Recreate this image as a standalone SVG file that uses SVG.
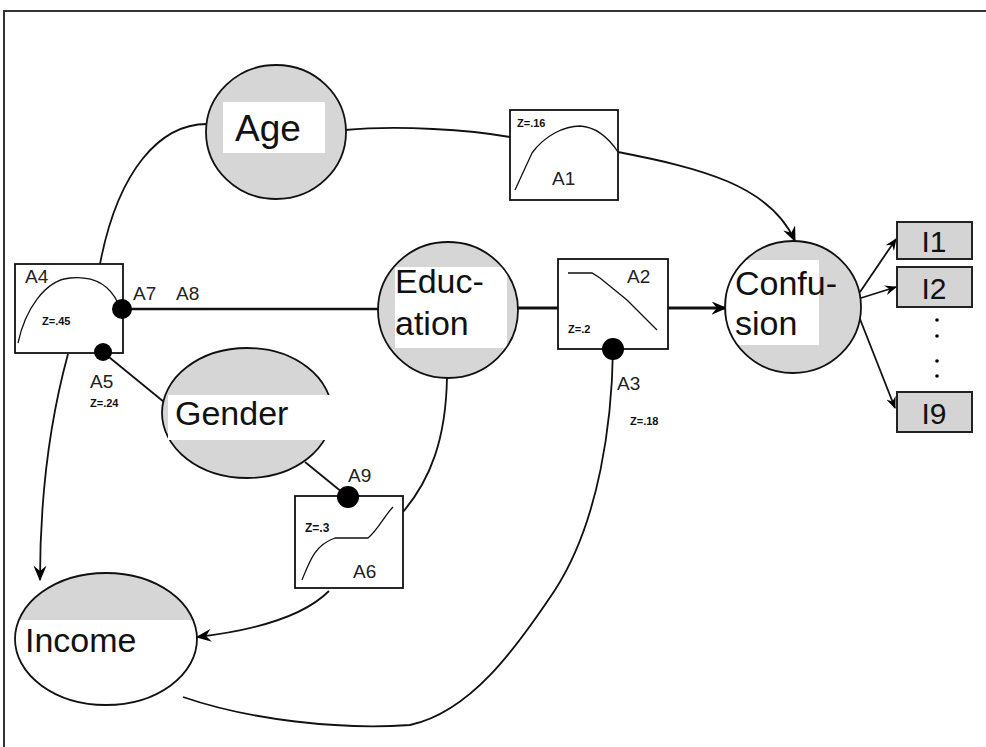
<svg xmlns="http://www.w3.org/2000/svg" width="986" height="747" viewBox="0 0 986 747">
<style>
.bg{fill:#ffffff}
.frame{fill:none;stroke:#333;stroke-width:2}
.nfill{fill:#d6d6d6;stroke:none}
.nline{fill:none;stroke:#111;stroke-width:1.8}
.tbox{fill:#ffffff;stroke:none}
.big{font-family:"Liberation Sans",Arial,sans-serif;font-size:34px;fill:#111}
.lab{font-family:"Liberation Sans",Arial,sans-serif;font-size:19px;fill:#222}
.z{font-family:"Liberation Sans",Arial,sans-serif;font-size:11px;font-weight:bold;fill:#111}
.box{fill:#ffffff;stroke:#111;stroke-width:1.8}
.ibox{fill:#d4d4d4;stroke:#222;stroke-width:2}
.curve{fill:none;stroke:#111;stroke-width:1.3}
.edge{fill:none;stroke:#111;stroke-width:1.8}
.thick{fill:none;stroke:#111;stroke-width:3}
.dot{fill:#000}
</style>
<defs>
<marker id="arr" viewBox="0 0 12 10" refX="11" refY="5" markerWidth="12" markerHeight="10" markerUnits="userSpaceOnUse" orient="auto">
<path d="M0,0 L12,5 L0,10 L4,5 z" fill="#000"/>
</marker>
<marker id="arrT" viewBox="0 0 12 10" refX="11" refY="5" markerWidth="16" markerHeight="13" markerUnits="userSpaceOnUse" orient="auto">
<path d="M0,0 L12,5 L0,10 L4,5 z" fill="#000"/>
</marker>
<clipPath id="cAge"><ellipse cx="276" cy="132" rx="70" ry="67"/></clipPath>
<clipPath id="cEdu"><ellipse cx="448" cy="310" rx="70" ry="68"/></clipPath>
<clipPath id="cCon"><ellipse cx="793" cy="307" rx="68" ry="66"/></clipPath>
<clipPath id="cInc"><ellipse cx="106" cy="639" rx="91" ry="66"/></clipPath>
</defs>
<rect class="bg" x="0" y="0" width="986" height="747"/>
<rect class="frame" x="4" y="11" width="995" height="760"/>

<g id="connectors">
<path class="edge" d="M207,124 C160,124 118,170 100,264"/>
<path class="edge" d="M345,130 C400,125 470,130 510,137"/>
<path class="edge" d="M618,152 C700,168 770,185 795,241" marker-end="url(#arrT)"/>
<path class="edge" d="M123,309 L378,309" style="stroke-width:2.4"/>
<path class="thick" d="M518,308 L558,308"/>
<path class="thick" d="M668,308 L726,308" marker-end="url(#arrT)"/>
<path class="edge" d="M104,353 L164,402"/>
<path class="edge" d="M68,354 C50,420 40,500 40,580" marker-end="url(#arrT)"/>
<path class="edge" d="M305,462 L348,497"/>
<path class="edge" d="M447,377 C446,440 430,480 403,512"/>
<path class="edge" d="M329,591 C300,620 240,632 197,637" marker-end="url(#arrT)"/>
<path class="edge" d="M613,349 C612,420 600,520 555,590 C515,650 470,712 410,725 C340,730 250,720 183,697"/>
<path class="edge" d="M860,292 L896,239" marker-end="url(#arr)"/>
<path class="edge" d="M861,298 L896,287" marker-end="url(#arr)"/>
<path class="edge" d="M858,314 L895,408" marker-end="url(#arr)"/>
</g>

<g id="age">
<ellipse class="nfill" cx="276" cy="132" rx="70" ry="67"/>
<rect class="tbox" x="223" y="102" width="102" height="51" clip-path="url(#cAge)"/>
<ellipse class="nline" cx="276" cy="132" rx="70" ry="67"/>
<text class="big" x="235" y="141" style="font-size:37px">Age</text>
</g>

<g id="education">
<ellipse class="nfill" cx="448" cy="310" rx="70" ry="68"/>
<rect class="tbox" x="395" y="267" width="112" height="81" clip-path="url(#cEdu)"/>
<ellipse class="nline" cx="448" cy="310" rx="70" ry="68"/>
<text class="big" x="395" y="293">Educ-</text>
<text class="big" x="395" y="335">ation</text>
</g>

<g id="confusion">
<ellipse class="nfill" cx="793" cy="307" rx="68" ry="66"/>
<rect class="tbox" x="727" y="260" width="92" height="85" clip-path="url(#cCon)"/>
<ellipse class="nline" cx="793" cy="307" rx="68" ry="66"/>
<text class="big" x="735" y="295">Confu-</text>
<text class="big" x="735" y="335">sion</text>
</g>

<g id="gender">
<ellipse class="nfill" cx="247" cy="413" rx="85" ry="65"/>
<ellipse class="nline" cx="247" cy="413" rx="85" ry="65"/>
<rect class="tbox" x="168" y="395" width="168" height="45"/>
<text class="big" x="175" y="425">Gender</text>
</g>

<g id="income">
<ellipse class="nfill" cx="106" cy="639" rx="91" ry="66"/>
<rect class="tbox" x="15" y="620" width="182" height="90" clip-path="url(#cInc)"/>
<ellipse class="nline" cx="106" cy="639" rx="91" ry="66"/>
<text class="big" x="25" y="652">Income</text>
</g>

<g id="A1">
<rect class="box" x="510" y="110" width="108" height="90"/>
<path class="curve" d="M515,190 L532,153 C545,135 565,126 580,126 C597,127 610,140 618,152"/>
<text class="z" x="517" y="127">Z=.16</text>
<text class="lab" x="552" y="185">A1</text>
</g>

<g id="A2">
<rect class="box" x="558" y="259" width="110" height="90"/>
<path class="curve" d="M568,273 L592,273 L600,278 L627,300 L657,330"/>
<text class="lab" x="627" y="283">A2</text>
<text class="z" x="568" y="333">Z=.2</text>
</g>

<g id="A3">
<circle class="dot" cx="613" cy="349" r="11"/>
<text class="lab" x="617" y="390">A3</text>
<text class="z" x="630" y="425">Z=.18</text>
</g>

<g id="A4">
<rect class="box" x="15" y="264" width="108" height="89"/>
<path class="curve" d="M18,343 C25,310 45,280 70,278 C90,276 108,282 118,303"/>
<text class="lab" x="25" y="283">A4</text>
<text class="z" x="42" y="325">Z=.45</text>
</g>

<g id="A7">
<circle class="dot" cx="122" cy="309" r="10"/>
<text class="lab" x="133" y="300">A7</text>
</g>

<g id="A8">
<text class="lab" x="176" y="300">A8</text>
</g>

<g id="A5">
<circle class="dot" cx="103" cy="352" r="9"/>
<text class="lab" x="90" y="388">A5</text>
<text class="z" x="90" y="407">Z=.24</text>
</g>

<g id="A6">
<rect class="box" x="295" y="496" width="108" height="92"/>
<path class="curve" d="M302,580 C310,560 315,545 335,538 L368,538 C378,530 385,515 393,507"/>
<text class="z" x="305" y="532" style="font-size:12px">Z=.3</text>
<text class="lab" x="353" y="578">A6</text>
</g>

<g id="A9">
<circle class="dot" cx="348" cy="497" r="11"/>
<text class="lab" x="348" y="482">A9</text>
</g>

<g id="I1">
<rect class="ibox" x="897" y="222" width="75" height="37"/>
<text class="big" x="934" y="252" text-anchor="middle" style="font-size:30px">I1</text>
</g>
<g id="I2">
<rect class="ibox" x="897" y="267" width="75" height="40"/>
<text class="big" x="934" y="299" text-anchor="middle" style="font-size:30px">I2</text>
</g>
<g id="dots">
<circle class="dot" cx="937" cy="320" r="1.8"/>
<circle class="dot" cx="937" cy="336" r="1.8"/>
<circle class="dot" cx="937" cy="361" r="1.8"/>
<circle class="dot" cx="937" cy="376" r="1.8"/>
</g>
<g id="I9">
<rect class="ibox" x="897" y="392" width="75" height="40"/>
<text class="big" x="934" y="424" text-anchor="middle" style="font-size:30px">I9</text>
</g>
</svg>
